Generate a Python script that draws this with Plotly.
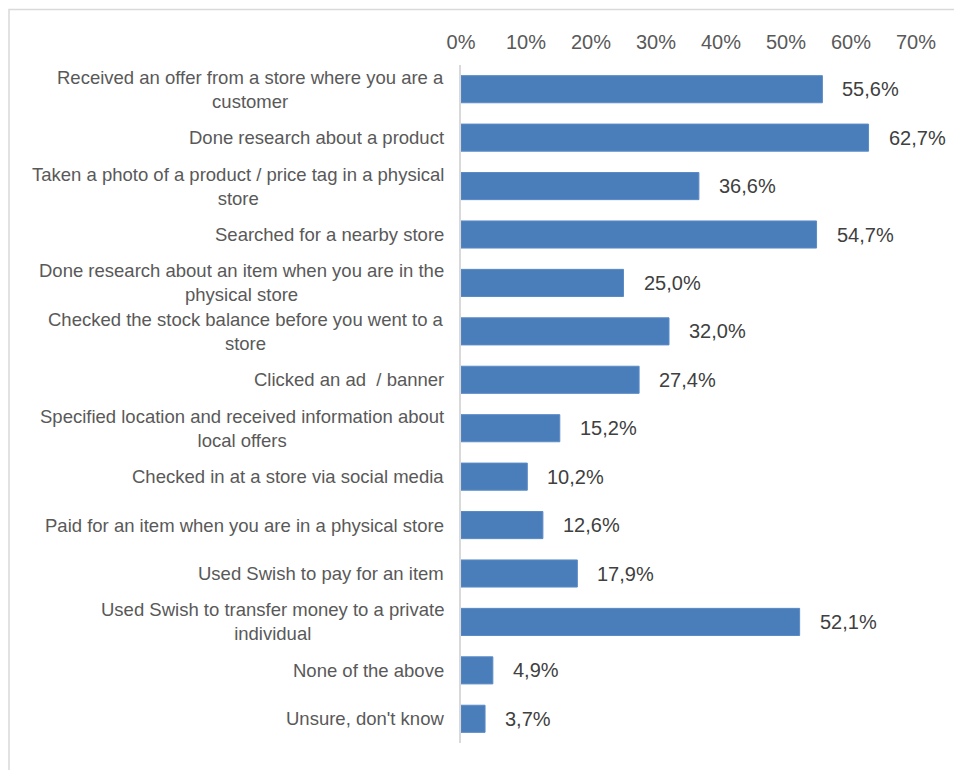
import plotly.graph_objects as go

categories = [
    "Received an offer from a store where you are a<br>customer",
    "Done research about a product",
    "Taken a photo of a product / price tag in a physical<br>store",
    "Searched for a nearby store",
    "Done research about an item when you are in the<br>physical store",
    "Checked the stock balance before you went to a<br>store",
    "Clicked an ad  / banner",
    "Specified location and received information about<br>local offers",
    "Checked in at a store via social media",
    "Paid for an item when you are in a physical store",
    "Used Swish to pay for an item",
    "Used Swish to transfer money to a private<br>individual",
    "None of the above",
    "Unsure, don't know",
]
values = [55.6, 62.7, 36.6, 54.7, 25.0, 32.0, 27.4, 15.2, 10.2, 12.6, 17.9, 52.1, 4.9, 3.7]
tick_vals = [0, 10, 20, 30, 40, 50, 60, 70]
tick_text = [f"{t}%" for t in tick_vals]
value_labels = [f"{v:.1f}%".replace(".", ",") for v in values]

FONT = "Liberation Sans, Arial, sans-serif"

fig = go.Figure(go.Bar(
    x=values,
    y=list(range(len(categories))),
    orientation="h",
    marker=dict(color="#4A7EBB", line=dict(color="#5B8BC6", width=1)),
    width=0.56,
    hoverinfo="skip",
))

annotations = []
for i, (cat, v, lab) in enumerate(zip(categories, values, value_labels)):
    annotations.append(dict(
        x=0, y=i, xref="x", yref="y", text=cat, showarrow=False,
        xanchor="right", yanchor="middle", align="center", xshift=-15,
        font=dict(family=FONT, size=18.5, color="#595959"),
    ))
    annotations.append(dict(
        x=v, y=i, xref="x", yref="y", text=lab, showarrow=False,
        xanchor="left", yanchor="middle", xshift=18,
        font=dict(family=FONT, size=20, color="#404040"),
    ))

L, R, T, B = 453, 54, 57, 35
W, H = 962, 770
pw, ph = W - L - R, H - T - B

fig.update_layout(
    width=W, height=H,
    margin=dict(l=L, r=R, t=T, b=B, pad=0),
    paper_bgcolor="white", plot_bgcolor="white",
    showlegend=False,
    font=dict(family=FONT, color="#595959"),
    xaxis=dict(
        side="top", range=[0, 70], tickvals=tick_vals, ticktext=tick_text,
        showgrid=False, zeroline=False, showline=False, ticks="",
        ticklabelstandoff=11,
        tickfont=dict(family=FONT, size=20, color="#595959"),
        fixedrange=True,
    ),
    yaxis=dict(
        range=[len(categories) - 0.5, -0.5], showticklabels=False,
        showgrid=False, zeroline=False, showline=True, linecolor="#D9D9D9",
        linewidth=2, ticks="", fixedrange=True,
    ),
    annotations=annotations,
    shapes=[dict(
        type="rect", xref="paper", yref="paper",
        x0=(1 - L) / pw, x1=(W + 20 - L) / pw,
        y0=(H - B - (H + 20)) / ph, y1=(H - B - 1.5) / ph,
        line=dict(color="#D9D9D9", width=1.5), fillcolor="rgba(0,0,0,0)",
        layer="below",
    )],
)

fig.write_html("out.html")
